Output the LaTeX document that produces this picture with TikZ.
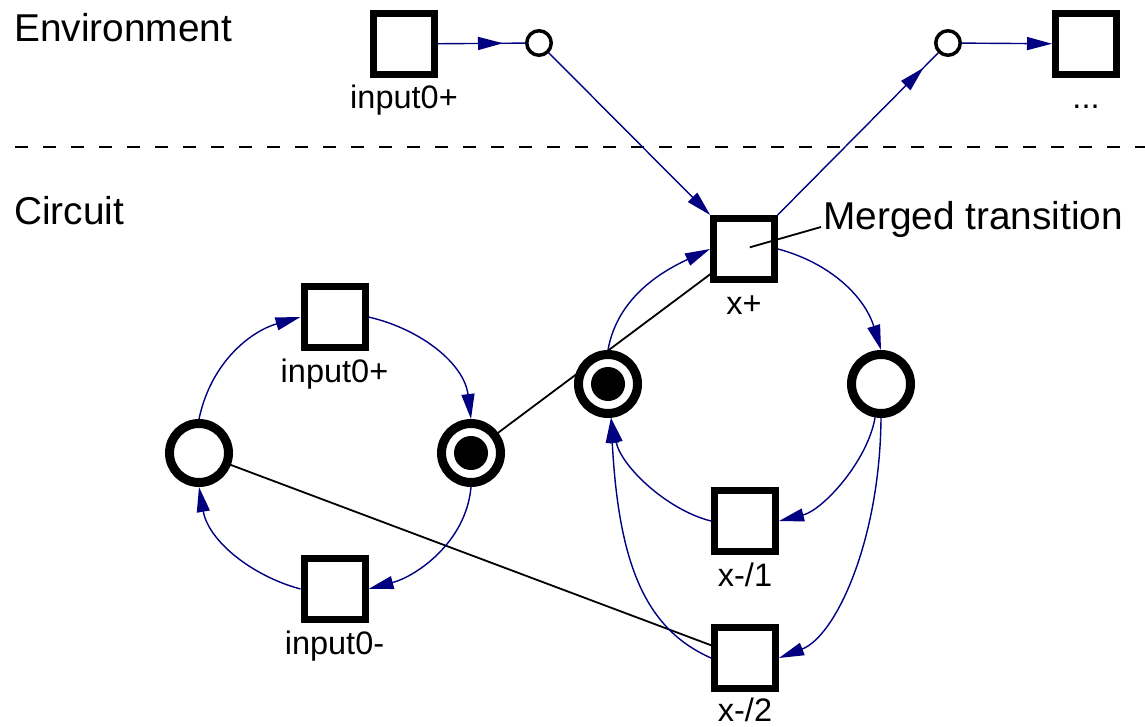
\documentclass[tikz,border=0pt]{standalone}
\usepackage{fontspec}
\setmainfont{Liberation Sans}
\usetikzlibrary{arrows.meta,decorations.markings,backgrounds}
\definecolor{arccol}{RGB}{0,0,128}
\begin{document}
\begin{tikzpicture}[x=1pt,y=1pt,
  trans/.style={draw, rectangle, line width=7pt, fill=white, minimum size=61pt, inner sep=0pt},
  place/.style={draw, circle, line width=9pt, fill=white, minimum size=59pt, inner sep=0pt},
  eplace/.style={draw, circle, line width=3.5pt, fill=white, minimum size=24.5pt, inner sep=0pt},
  token/.style={path picture={\fill[black] (path picture bounding box.center) circle (17pt);}},
  lbl/.style={font=\fontsize{32.5}{36}\selectfont, inner sep=0pt, anchor=base},
  head/.style={font=\fontsize{38.8}{42}\selectfont, inner sep=0pt, anchor=base west},
  arcs/.style={draw=arccol, line width=1.4pt, -{Triangle[length=25pt,width=13pt]}},
  earc/.style={draw=arccol, line width=1.4pt, postaction={decorate},
    decoration={markings, mark=at position #1 with {\arrow[color=arccol]{Triangle[length=25pt,width=13pt]}}}},
  link/.style={draw=black, line width=1.8pt},
]
\useasboundingbox (0,0) rectangle (1145,-727);

% headings and separator
\node[head] (env) at (14,-42) {Environment};
\node[head] (circ) at (14,-225) {Circuit};
\draw[line width=1.8pt, dash pattern=on 13pt off 15pt, dash phase=13pt] (0,-147) -- (1145,-147);

% environment
\node[trans] (eT1) at (404,-44) {};
\node[lbl] (eT1l) at ([yshift=-65pt]eT1.center) {input0+};
\node[eplace] (eP1) at (539,-43) {};
\node[eplace] (eP2) at (948,-43) {};
\node[trans] (eT2) at (1086,-44) {};
\node[lbl] (eT2l) at ([yshift=-65pt]eT2.center) {...};

% circuit
\node[trans] (Tinp) at (334.5,-317) {};
\node[lbl] (Tinpl) at ([yshift=-65pt]Tinp.center) {input0+};
\node[place] (Pl) at (199,-453) {};
\node[place, token] (Pm) at (471,-453) {};
\node[trans] (Tinm) at (334.5,-589) {};
\node[lbl] (Tinml) at ([yshift=-65pt]Tinm.center) {input0-};

\node[place, token] (Px) at (608,-384) {};
\node[trans] (Txp) at (744,-249) {};
\node[lbl] (Txpl) at ([yshift=-65pt]Txp.center) {x+};
\node[place] (Pr) at (881,-384) {};
\node[trans] (Tx1) at (745,-521) {};
\node[lbl] (Tx1l) at ([yshift=-65pt]Tx1.center) {x-/1};
\node[trans] (Tx2) at (745,-658) {};
\node[lbl] (Tx2l) at ([yshift=-63pt]Tx2.center) {x-/2};

\node[head] (mt) at (823,-230) {Merged transition};

% black links behind the nodes
\begin{scope}[on background layer]
  \draw[link] (Pm.center) -- (Txp.center);
  \draw[link] (Pl.center) -- (Tx2.center);
\end{scope}
\draw[link, shorten <=6pt] (Txp.center) -- ([shift={(-2pt,3pt)}]mt.base west);

% environment arcs
\draw[earc=-22pt] (eT1) -- (eP1);
\draw[arcs] (eP1) -- (Txp);
\draw[earc=-21pt] (Txp) -- (eP2);
\draw[arcs] (eP2) -- (eT2);

% left loop
\draw[arcs] (Pl.north) .. controls +(78:60) and +(196:50) .. (Tinp.west);
\draw[arcs] (Tinp.east) .. controls +(-13:55) and +(97:55) .. (Pm.north);
\draw[arcs] (Pm.south) .. controls +(-95:55) and +(15:50) .. (Tinm.east);
\draw[arcs] (Tinm.west) .. controls +(165:50) and +(-80:55) .. (Pl.south);

% right loop
\draw[arcs] (Px.north) .. controls +(80:55) and +(205:50) .. (Txp.west);
\draw[arcs] (Txp.east) .. controls +(-15:55) and +(107:55) .. (Pr.north);
\draw[arcs] (Pr.-100) .. controls +(-100:45) and +(14:45) .. (Tx1.east);
\draw[arcs] (Pr.south) .. controls +(-1,-122) and +(57,22) .. (Tx2.east);
\draw[arcs] (Tx1.west) .. controls +(166:45) and +(-78:50) .. (Px.-85);
\draw[arcs] (Tx2.west) .. controls +(156:70) and +(-87:150) .. (Px.-85);
\end{tikzpicture}
\end{document}
